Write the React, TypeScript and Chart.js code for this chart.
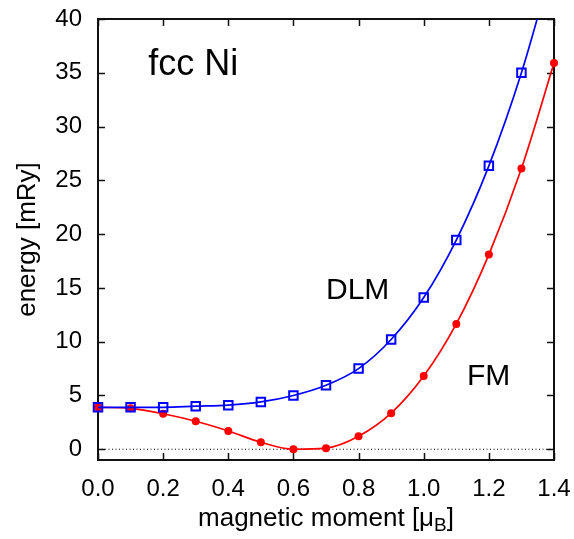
import React, { useEffect, useRef } from "react";
import { Chart, registerables } from "chart.js";

Chart.register(...registerables);

// ---- data ----
const moments = [0.0, 0.1, 0.2, 0.3, 0.4, 0.5, 0.6, 0.7, 0.8, 0.9, 1.0, 1.1, 1.2, 1.3, 1.4];
const dlmEnergy = [3.9, 3.9, 3.9, 4.0, 4.1, 4.4, 5.0, 5.95, 7.5, 10.2, 14.1, 19.45, 26.35, 35.0, 45.6];
const fmEnergy = [3.9, 3.8, 3.3, 2.6, 1.7, 0.65, 0.0, 0.1, 1.2, 3.35, 6.8, 11.65, 18.1, 26.1, 35.9];
const xTicks = [0.0, 0.2, 0.4, 0.6, 0.8, 1.0, 1.2, 1.4];
const yTicks = [0, 5, 10, 15, 20, 25, 30, 35, 40];
const xRange = [0, 1.4];
const yRange = [-1, 40];

const labels = [
  { text: "fcc Ni", x: 0.154, y: 34.8, size: 36 },
  { text: "DLM", x: 0.70, y: 14.0, size: 30 },
  { text: "FM", x: 1.133, y: 6.0, size: 30 },
];
const xTitleMain = "magnetic moment [μ";
const xTitleSub = "B";
const xTitleEnd = "]";
const yTitle = "energy [mRy]";

const FONT = '"Liberation Sans", Arial, Helvetica, sans-serif';

const framePlugin = {
  id: "frameTicks",
  beforeDatasetsDraw(chart: any) {
    const { ctx, chartArea: a, scales } = chart;
    const xs = scales.x;
    const ys = scales.y;
    ctx.save();
    ctx.strokeStyle = "#111";
    ctx.lineWidth = 1.5;
    ctx.beginPath();
    const tl = 7;
    xTicks.forEach((v) => {
      const px = Math.round(xs.getPixelForValue(v)) + 0.5;
      ctx.moveTo(px, a.bottom);
      ctx.lineTo(px, a.bottom - tl);
      ctx.moveTo(px, a.top);
      ctx.lineTo(px, a.top + tl);
    });
    yTicks.forEach((v) => {
      const py = Math.round(ys.getPixelForValue(v)) + 0.5;
      ctx.moveTo(a.left, py);
      ctx.lineTo(a.left + tl, py);
      ctx.moveTo(a.right, py);
      ctx.lineTo(a.right - tl, py);
    });
    ctx.stroke();
    ctx.lineWidth = 2;
    ctx.strokeRect(a.left, a.top, a.right - a.left, a.bottom - a.top);
    ctx.restore();
  },
  afterDraw(chart: any) {
    const { ctx, chartArea: a, scales } = chart;
    const xs = scales.x;
    const ys = scales.y;
    ctx.save();
    ctx.fillStyle = "#000";
    ctx.textBaseline = "alphabetic";
    ctx.textAlign = "left";
    labels.forEach((l) => {
      ctx.font = `${l.size}px ${FONT}`;
      ctx.fillText(l.text, xs.getPixelForValue(l.x), ys.getPixelForValue(l.y));
    });
    // x title with subscript
    const tSize = 26;
    const sSize = 19;
    ctx.font = `${tSize}px ${FONT}`;
    const w1 = ctx.measureText(xTitleMain).width;
    const w3 = ctx.measureText(xTitleEnd).width;
    ctx.font = `${sSize}px ${FONT}`;
    const w2 = ctx.measureText(xTitleSub).width;
    const total = w1 + w2 + w3;
    const cx = (a.left + a.right) / 2;
    const x0 = cx - total / 2;
    const base = 526;
    ctx.font = `${tSize}px ${FONT}`;
    ctx.fillText(xTitleMain, x0, base);
    ctx.font = `${sSize}px ${FONT}`;
    ctx.fillText(xTitleSub, x0 + w1, base + 5);
    ctx.font = `${tSize}px ${FONT}`;
    ctx.fillText(xTitleEnd, x0 + w1 + w2, base);
    // y title
    ctx.translate(35, (a.top + a.bottom) / 2);
    ctx.rotate(-Math.PI / 2);
    ctx.textAlign = "center";
    ctx.font = `${tSize}px ${FONT}`;
    ctx.fillText(yTitle, 0, 0);
    ctx.restore();
  },
};

export default function App() {
  const ref = useRef<HTMLCanvasElement | null>(null);
  useEffect(() => {
    if (!ref.current) return;
    const chart = new Chart(ref.current, {
      type: "line",
      data: {
        datasets: [
          {
            label: "DLM",
            data: moments.map((m, i) => ({ x: m, y: dlmEnergy[i] })),
            borderColor: "#0000ff",
            borderWidth: 1.7,
            pointStyle: "rect",
            pointRadius: 6,
            pointBorderWidth: 2,
            pointBorderColor: "#0000ff",
            pointBackgroundColor: "rgba(0,0,0,0)",
            cubicInterpolationMode: "monotone",
            clip: { left: 10, right: 10, top: 0, bottom: 10 },
          } as any,
          {
            label: "FM",
            data: moments.map((m, i) => ({ x: m, y: fmEnergy[i] })),
            borderColor: "#ff0000",
            borderWidth: 1.7,
            pointStyle: "circle",
            pointRadius: 4,
            pointBorderWidth: 0,
            pointBackgroundColor: "#ff0000",
            cubicInterpolationMode: "monotone",
            clip: { left: 10, right: 10, top: 10, bottom: 10 },
          } as any,
          {
            label: "zero",
            data: [
              { x: xRange[0], y: 0 },
              { x: xRange[1], y: 0 },
            ],
            borderColor: "#000",
            borderWidth: 1,
            borderDash: [1, 2.5],
            pointRadius: 0,
          } as any,
        ],
      },
      options: {
        animation: false,
        responsive: true,
        maintainAspectRatio: false,
        events: [],
        layout: { padding: { left: 0, right: 20, top: 19, bottom: 0 } },
        plugins: { legend: { display: false }, tooltip: { enabled: false } },
        scales: {
          x: {
            type: "linear",
            min: xRange[0],
            max: xRange[1],
            grid: { display: false, drawTicks: false },
            border: { display: false },
            afterBuildTicks: (s: any) => {
              s.ticks = xTicks.map((v) => ({ value: v }));
            },
            afterFit: (s: any) => {
              s.height = 79;
              s.paddingLeft = 0;
              s.paddingRight = 0;
            },
            ticks: {
              padding: 15,
              maxRotation: 0,
              autoSkip: false,
              color: "#000",
              font: { family: FONT, size: 24 },
              callback: (v: any) => Number(v).toFixed(1),
            },
          },
          y: {
            type: "linear",
            min: yRange[0],
            max: yRange[1],
            grid: { display: false, drawTicks: false },
            border: { display: false },
            afterBuildTicks: (s: any) => {
              s.ticks = yTicks.map((v) => ({ value: v }));
            },
            afterFit: (s: any) => {
              s.width = 98;
              s.paddingTop = 0;
              s.paddingBottom = 0;
            },
            ticks: {
              padding: 16,
              autoSkip: false,
              color: "#000",
              font: { family: FONT, size: 24 },
            },
          },
        },
      },
      plugins: [framePlugin],
    });
    return () => chart.destroy();
  }, []);
  return (
    <div style={{ position: "absolute", left: 0, top: 0, width: 574, height: 539, background: "#fff" }}>
      <canvas ref={ref} />
    </div>
  );
}
